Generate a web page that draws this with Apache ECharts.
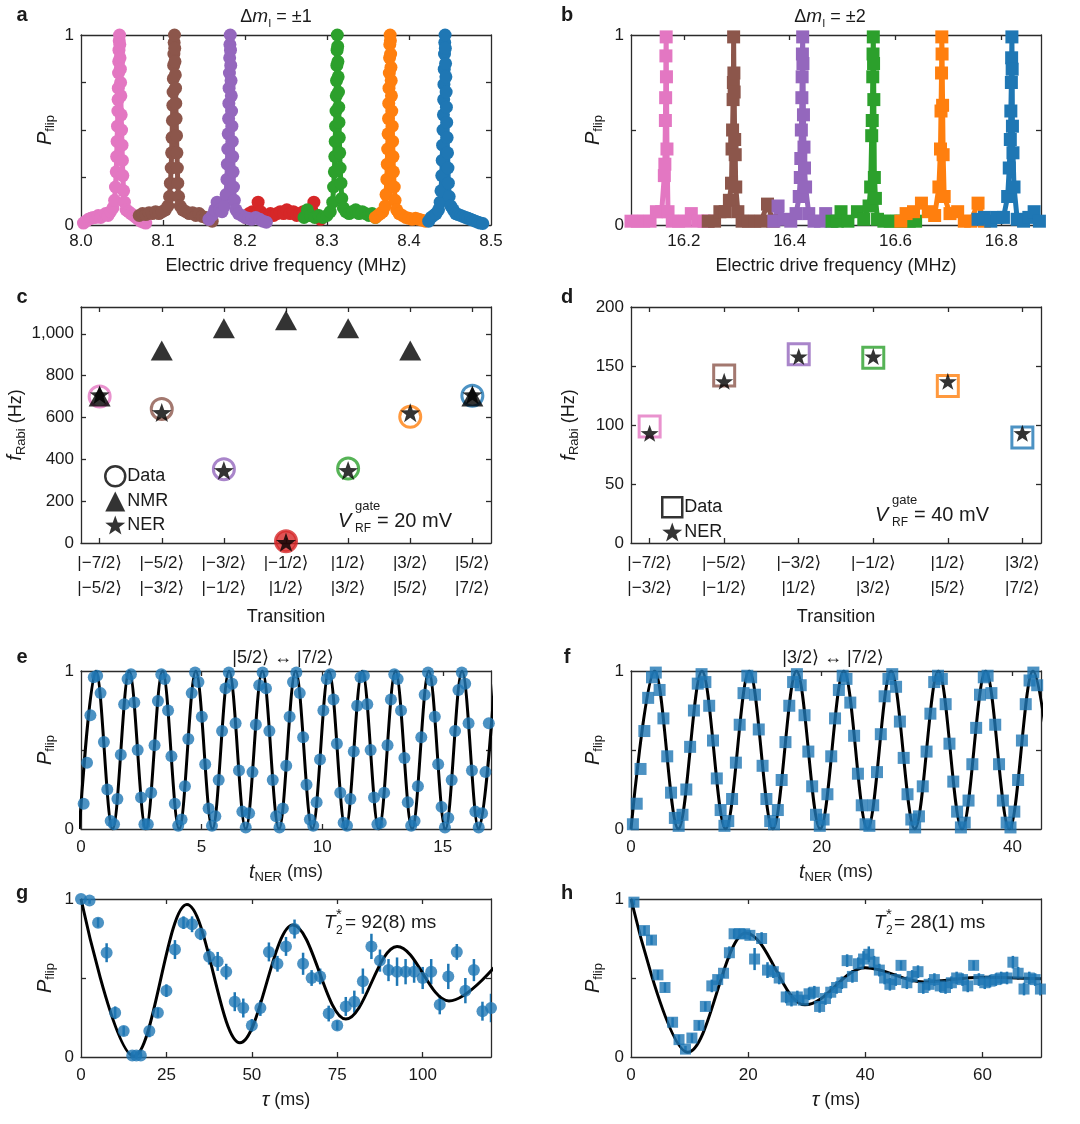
<!DOCTYPE html>
<html><head><meta charset="utf-8">
<script src="https://cdn.jsdelivr.net/npm/echarts@6/dist/echarts.min.js"></script>
<style>html,body{margin:0;padding:0;background:#fff}#main{width:1080px;height:1124px}</style>
</head><body><div id="main"></div>
<script>
// ---------------- DATA ----------------
// panel a : Δm = ±1 spectra  [frequency MHz, Pflip]
const aPink=[[8.003,0.01],[8.006,0.02],[8.009,0.03],[8.012,0.035],[8.015,0.04],[8.018,0.04],[8.021,0.05],[8.024,0.04],[8.027,0.05],[8.030,0.06],[8.033,0.05],[8.036,0.07],[8.039,0.09],[8.041,0.13],[8.042,0.2],[8.043,0.28],[8.0435,0.36],[8.044,0.44],[8.0445,0.52],[8.045,0.6],[8.0452,0.66],[8.0455,0.72],[8.0458,0.8],[8.046,0.86],[8.0463,0.92],[8.0466,0.97],[8.047,1.0],[8.0473,0.95],[8.0476,0.88],[8.048,0.82],[8.0483,0.75],[8.0486,0.68],[8.049,0.58],[8.0495,0.5],[8.05,0.42],[8.0505,0.34],[8.051,0.26],[8.052,0.18],[8.053,0.12],[8.055,0.08],[8.058,0.07],[8.061,0.06],[8.064,0.05],[8.067,0.04],[8.07,0.03],[8.073,0.02],[8.076,0.015],[8.079,0.01]];
const aBrown=[[8.071,0.05],[8.075,0.06],[8.079,0.055],[8.083,0.065],[8.087,0.06],[8.091,0.07],[8.095,0.06],[8.099,0.07],[8.103,0.08],[8.106,0.1],[8.108,0.15],[8.109,0.22],[8.110,0.3],[8.1105,0.38],[8.111,0.46],[8.1115,0.55],[8.112,0.63],[8.1123,0.7],[8.1126,0.77],[8.113,0.84],[8.1133,0.9],[8.1136,0.96],[8.114,1.0],[8.1143,0.93],[8.1146,0.86],[8.115,0.79],[8.1153,0.72],[8.1156,0.64],[8.116,0.56],[8.1165,0.47],[8.117,0.38],[8.1175,0.3],[8.118,0.22],[8.119,0.15],[8.121,0.1],[8.124,0.08],[8.128,0.07],[8.132,0.06],[8.136,0.065],[8.14,0.05],[8.144,0.06],[8.148,0.045],[8.152,0.04],[8.156,0.03],[8.16,0.02]];
const aRed=[[8.201,0.04],[8.205,0.06],[8.209,0.07],[8.213,0.06],[8.216,0.12],[8.219,0.07],[8.223,0.05],[8.227,0.04],[8.231,0.06],[8.235,0.05],[8.239,0.06],[8.243,0.07],[8.247,0.06],[8.251,0.08],[8.255,0.06],[8.259,0.07],[8.263,0.05],[8.267,0.06],[8.271,0.07],[8.275,0.06],[8.279,0.05],[8.284,0.12],[8.288,0.05],[8.292,0.03]];
const aPurple=[[8.156,0.03],[8.160,0.05],[8.163,0.08],[8.166,0.12],[8.169,0.08],[8.172,0.07],[8.175,0.1],[8.177,0.16],[8.178,0.24],[8.1785,0.32],[8.179,0.4],[8.1795,0.48],[8.18,0.56],[8.1803,0.64],[8.1806,0.72],[8.181,0.8],[8.1813,0.88],[8.1816,0.95],[8.182,1.0],[8.1823,0.92],[8.1826,0.84],[8.183,0.76],[8.1833,0.68],[8.1836,0.6],[8.184,0.52],[8.1845,0.44],[8.185,0.36],[8.1855,0.28],[8.186,0.2],[8.187,0.13],[8.189,0.08],[8.192,0.06],[8.196,0.05],[8.2,0.04],[8.204,0.035],[8.208,0.03],[8.213,0.04],[8.218,0.03],[8.222,0.02],[8.226,0.015]];
const aGreen=[[8.272,0.04],[8.276,0.08],[8.28,0.05],[8.285,0.04],[8.29,0.05],[8.295,0.04],[8.3,0.05],[8.304,0.07],[8.307,0.12],[8.308,0.2],[8.309,0.28],[8.3095,0.36],[8.31,0.44],[8.3105,0.52],[8.311,0.6],[8.3113,0.68],[8.3116,0.76],[8.312,0.84],[8.3123,0.92],[8.3126,1.0],[8.313,0.94],[8.3133,0.86],[8.3136,0.78],[8.314,0.7],[8.3143,0.62],[8.3146,0.54],[8.315,0.46],[8.3155,0.38],[8.316,0.3],[8.317,0.22],[8.318,0.14],[8.32,0.09],[8.323,0.07],[8.327,0.06],[8.331,0.07],[8.335,0.08],[8.339,0.06],[8.343,0.07],[8.347,0.06],[8.351,0.05],[8.355,0.06],[8.359,0.04]];
const aOrange=[[8.359,0.04],[8.362,0.05],[8.365,0.06],[8.368,0.07],[8.371,0.1],[8.372,0.16],[8.373,0.24],[8.3735,0.32],[8.374,0.4],[8.3745,0.48],[8.375,0.56],[8.3753,0.64],[8.3756,0.72],[8.376,0.8],[8.3763,0.88],[8.3766,0.95],[8.377,1.0],[8.3773,0.97],[8.3776,0.9],[8.378,0.83],[8.3783,0.76],[8.3786,0.68],[8.379,0.6],[8.3795,0.52],[8.38,0.44],[8.3805,0.36],[8.381,0.28],[8.382,0.2],[8.383,0.13],[8.385,0.08],[8.388,0.06],[8.392,0.05],[8.396,0.04],[8.4,0.035],[8.404,0.03],[8.408,0.035],[8.412,0.03],[8.416,0.025],[8.42,0.02]];
const aBlue=[[8.424,0.02],[8.427,0.04],[8.43,0.05],[8.433,0.06],[8.436,0.08],[8.438,0.12],[8.439,0.18],[8.44,0.26],[8.4405,0.34],[8.441,0.42],[8.4415,0.5],[8.442,0.58],[8.4423,0.66],[8.4426,0.74],[8.443,0.82],[8.4433,0.9],[8.4436,0.96],[8.444,1.0],[8.4443,0.93],[8.4446,0.85],[8.445,0.78],[8.4453,0.7],[8.4456,0.62],[8.446,0.54],[8.4465,0.46],[8.447,0.38],[8.4475,0.3],[8.448,0.22],[8.449,0.15],[8.451,0.1],[8.454,0.08],[8.457,0.06],[8.46,0.055],[8.463,0.05],[8.466,0.045],[8.469,0.04],[8.472,0.035],[8.475,0.03],[8.478,0.025],[8.481,0.02],[8.484,0.015],[8.487,0.01],[8.49,0.008]];

// panel b : Δm = ±2 spectra
const bPink=[[16.1,0.02],[16.112,0.02],[16.124,0.02],[16.136,0.02],[16.148,0.07],[16.158,0.07],[16.163,0.26],[16.164,0.32],[16.165,0.55],[16.1655,0.67],[16.166,0.89],[16.1665,0.99],[16.167,0.78],[16.168,0.4],[16.17,0.07],[16.178,0.02],[16.19,0.02],[16.202,0.02],[16.214,0.06],[16.226,0.02],[16.238,0.02],[16.245,0.02]];
const bBrown=[[16.246,0.02],[16.258,0.02],[16.268,0.07],[16.278,0.07],[16.286,0.13],[16.29,0.22],[16.291,0.4],[16.292,0.5],[16.293,0.66],[16.2935,0.75],[16.294,0.99],[16.2945,0.8],[16.295,0.7],[16.296,0.45],[16.297,0.37],[16.298,0.2],[16.302,0.07],[16.31,0.02],[16.322,0.02],[16.334,0.02],[16.346,0.02],[16.358,0.11],[16.368,0.02]];
const bPurple=[[16.37,0.02],[16.378,0.1],[16.39,0.03],[16.402,0.02],[16.412,0.06],[16.418,0.15],[16.42,0.25],[16.421,0.35],[16.422,0.5],[16.423,0.67],[16.4235,0.78],[16.424,0.9],[16.4245,0.99],[16.425,0.85],[16.426,0.58],[16.427,0.41],[16.428,0.3],[16.43,0.2],[16.436,0.06],[16.446,0.02],[16.458,0.02],[16.468,0.06],[16.478,0.02]];
const bGreen=[[16.48,0.02],[16.49,0.02],[16.497,0.07],[16.51,0.02],[16.528,0.07],[16.54,0.03],[16.55,0.1],[16.553,0.2],[16.555,0.47],[16.556,0.55],[16.557,0.78],[16.5575,0.9],[16.558,0.99],[16.5585,0.85],[16.559,0.66],[16.56,0.25],[16.562,0.14],[16.566,0.03],[16.578,0.02],[16.59,0.02],[16.602,0.02],[16.614,0.02],[16.626,0.02],[16.638,0.02]];
const bOrange=[[16.61,0.02],[16.62,0.06],[16.634,0.07],[16.649,0.115],[16.662,0.07],[16.674,0.05],[16.682,0.2],[16.685,0.4],[16.686,0.6],[16.687,0.8],[16.6875,0.99],[16.688,0.9],[16.689,0.63],[16.69,0.37],[16.692,0.15],[16.703,0.06],[16.7175,0.07],[16.73,0.02],[16.742,0.02],[16.756,0.115],[16.768,0.02]];
const bBlue=[[16.756,0.03],[16.768,0.04],[16.78,0.02],[16.792,0.04],[16.804,0.04],[16.812,0.15],[16.815,0.3],[16.817,0.45],[16.818,0.6],[16.819,0.75],[16.8195,0.88],[16.82,0.99],[16.8205,0.82],[16.821,0.52],[16.822,0.38],[16.824,0.2],[16.83,0.03],[16.842,0.02],[16.852,0.04],[16.862,0.07],[16.872,0.02]];

// panel c : Rabi frequencies (Hz), Δm = ±1
const cTop=['|−7/2⟩','|−5/2⟩','|−3/2⟩','|−1/2⟩','|1/2⟩','|3/2⟩','|5/2⟩'];
const cBot=['|−5/2⟩','|−3/2⟩','|−1/2⟩','|1/2⟩','|3/2⟩','|5/2⟩','|7/2⟩'];
const cData=[700,641,353,8,356,603,704];
const cNMR=[700,920,1027,1065,1027,920,700];
const cNER=[709,624,347,3,347,623,709];
// panel d : Rabi frequencies (Hz), Δm = ±2
const dTop=['|−7/2⟩','|−5/2⟩','|−3/2⟩','|−1/2⟩','|1/2⟩','|3/2⟩'];
const dBot=['|−3/2⟩','|−1/2⟩','|1/2⟩','|3/2⟩','|5/2⟩','|7/2⟩'];
const dData=[98.8,142,160,157,133,89.5];
const dNER=[93,137,158,158,137,93];

// panel e : Rabi oscillation |5/2>-|7/2>
const eT=[0.11,0.25,0.39,0.53,0.67,0.81,0.95,1.09,1.23,1.37,1.51,1.65,1.79,1.93,2.07,2.21,2.35,2.49,2.63,2.77,2.91,3.05,3.19,3.33,3.47,3.61,3.75,3.89,4.03,4.17,4.31,4.45,4.59,4.73,4.87,5.01,5.15,5.29,5.43,5.57,5.71,5.85,5.99,6.13,6.27,6.41,6.55,6.69,6.83,6.97,7.11,7.25,7.39,7.53,7.67,7.81,7.95,8.09,8.23,8.37,8.51,8.65,8.79,8.93,9.07,9.21,9.35,9.49,9.63,9.77,9.91,10.05,10.19,10.33,10.47,10.61,10.75,10.89,11.03,11.17,11.31,11.45,11.59,11.73,11.87,12.01,12.15,12.29,12.43,12.57,12.71,12.85,12.99,13.13,13.27,13.41,13.55,13.69,13.83,13.97,14.11,14.25,14.39,14.53,14.67,14.81,14.95,15.09,15.23,15.37,15.51,15.65,15.79,15.93,16.07,16.21,16.35,16.49,16.63,16.77,16.91];
const eP=[0.16,0.42,0.72,0.96,0.97,0.86,0.55,0.25,0.05,0.03,0.19,0.47,0.79,0.95,0.98,0.80,0.50,0.20,0.03,0.03,0.23,0.53,0.81,0.98,0.95,0.75,0.46,0.16,0.02,0.06,0.27,0.57,0.86,0.99,0.93,0.71,0.41,0.13,0.02,0.08,0.31,0.62,0.89,0.99,0.92,0.67,0.37,0.11,0.01,0.10,0.36,0.66,0.91,0.99,0.89,0.62,0.31,0.08,0.01,0.13,0.40,0.71,0.93,0.99,0.86,0.58,0.28,0.06,0.02,0.17,0.44,0.75,0.95,0.98,0.82,0.54,0.23,0.04,0.02,0.19,0.49,0.78,0.96,0.97,0.79,0.50,0.20,0.03,0.04,0.23,0.53,0.82,0.98,0.95,0.75,0.45,0.17,0.02,0.05,0.27,0.58,0.85,0.99,0.94,0.71,0.41,0.14,0.01,0.07,0.31,0.62,0.88,0.99,0.92,0.67,0.37,0.11,0.01,0.10,0.36,0.67];
const eFitT=[-0.07,0.62,1.31,2.0,2.69,3.38,4.07,4.76,5.45,6.14,6.83,7.52,8.21,8.9,9.59,10.28,10.97,11.66,12.35,13.04,13.73,14.42,15.11,15.8,16.49,17.18];
const eFitP=[0,1,0,1,0,1,0,1,0,1,0,1,0,1,0,1,0,1,0,1,0,1,0,1,0,1];

// panel f : Rabi oscillation |3/2>-|7/2>
const fT=[0.2,0.6,1.0,1.4,1.8,2.2,2.6,3.0,3.4,3.8,4.2,4.6,5.0,5.4,5.8,6.2,6.6,7.0,7.4,7.8,8.2,8.6,9.0,9.4,9.8,10.2,10.6,11.0,11.4,11.8,12.2,12.6,13.0,13.4,13.8,14.2,14.6,15.0,15.4,15.8,16.2,16.6,17.0,17.4,17.8,18.2,18.6,19.0,19.4,19.8,20.2,20.6,21.0,21.4,21.8,22.2,22.6,23.0,23.4,23.8,24.2,24.6,25.0,25.4,25.8,26.2,26.6,27.0,27.4,27.8,28.2,28.6,29.0,29.4,29.8,30.2,30.6,31.0,31.4,31.8,32.2,32.6,33.0,33.4,33.8,34.2,34.6,35.0,35.4,35.8,36.2,36.6,37.0,37.4,37.8,38.2,38.6,39.0,39.4,39.8,40.2,40.6,41.0,41.4,41.8,42.2,42.6];
const fP=[0.03,0.16,0.38,0.62,0.83,0.96,0.99,0.88,0.70,0.46,0.23,0.07,0.02,0.09,0.25,0.52,0.75,0.92,0.98,0.93,0.78,0.56,0.32,0.12,0.02,0.05,0.19,0.42,0.66,0.86,0.97,0.96,0.85,0.63,0.40,0.19,0.05,0.03,0.12,0.31,0.55,0.78,0.93,0.98,0.91,0.72,0.49,0.27,0.09,0.02,0.06,0.22,0.46,0.70,0.88,0.97,0.95,0.80,0.59,0.35,0.15,0.03,0.02,0.15,0.36,0.60,0.84,0.95,0.98,0.90,0.68,0.45,0.22,0.06,0.01,0.08,0.27,0.49,0.73,0.93,0.97,0.95,0.79,0.54,0.30,0.11,0.01,0.04,0.18,0.41,0.64,0.85,0.96,0.97,0.86,0.66,0.41,0.18,0.04,0.01,0.11,0.31,0.56,0.79,0.94,0.99,0.91];
const fFitT=[0,2.48,4.96,7.44,9.92,12.4,14.88,17.36,19.84,22.32,24.8,27.28,29.76,32.24,34.72,37.2,39.68,42.16,44.64];
const fFitP=[0,1,0,1,0,1,0,1,0,1,0,1,0,1,0,1,0,1,0];

// panel g : Ramsey, Δm = ±1
const gT=[0,2.5,5,7.5,10,12.5,15,16.2,17.5,20,22.5,25,27.5,30,32.5,35,37.5,40,42.5,45,47.5,50,52.5,55,57.5,60,62.5,65,67.5,70,72.5,75,77.5,80,82.5,85,87.5,90,92.5,95,97.5,100,102.5,105,107.5,110,112.5,115,117.5,120];
const gP=[1.0,0.99,0.85,0.66,0.28,0.165,0.01,0.01,0.01,0.165,0.28,0.42,0.68,0.85,0.84,0.78,0.635,0.605,0.54,0.35,0.31,0.2,0.31,0.665,0.59,0.70,0.81,0.59,0.50,0.51,0.275,0.20,0.32,0.35,0.48,0.70,0.61,0.55,0.54,0.54,0.54,0.50,0.54,0.33,0.51,0.665,0.42,0.55,0.29,0.31];
const gErr=[0.02,0.02,0.03,0.06,0.04,0.03,0.02,0.02,0.02,0.04,0.03,0.04,0.06,0.04,0.05,0.04,0.05,0.06,0.05,0.06,0.06,0.04,0.05,0.06,0.05,0.06,0.06,0.07,0.05,0.05,0.05,0.03,0.06,0.07,0.08,0.08,0.07,0.07,0.09,0.08,0.07,0.07,0.08,0.06,0.08,0.05,0.08,0.07,0.06,0.09];
const gFitT=[0,15.5,31,46.5,62,77.5,92.5,107.7,123];
const gFitP=[1,0.005,0.965,0.09,0.835,0.24,0.7,0.355,0.62];

// panel h : Ramsey, Δm = ±2
const hT=[0.5,2.3,3.5,4.6,5.8,7.1,8.2,9.3,10.4,11.6,12.7,13.8,14.8,15.8,16.8,17.6,18.5,19.4,20.3,21.1,22.3,23.3,24.3,25.3,26.5,27.4,28.4,29.4,30.4,31.3,32.2,33.2,34.1,35.1,36.0,36.9,37.8,38.8,39.7,40.6,41.5,42.4,43.3,44.2,45.2,46.1,47.1,48.0,49.0,49.9,50.9,51.8,52.8,53.7,54.7,55.6,56.6,57.5,58.5,59.4,60.4,61.3,62.3,63.2,64.2,65.2,66.1,67.1,68.0,69.0,69.9];
const hP=[0.98,0.80,0.74,0.52,0.44,0.22,0.11,0.05,0.12,0.20,0.32,0.45,0.49,0.53,0.66,0.78,0.78,0.78,0.77,0.62,0.75,0.55,0.54,0.50,0.38,0.36,0.38,0.36,0.40,0.41,0.32,0.37,0.41,0.44,0.47,0.61,0.51,0.59,0.62,0.65,0.60,0.55,0.50,0.46,0.49,0.58,0.47,0.51,0.54,0.44,0.46,0.49,0.45,0.44,0.47,0.50,0.49,0.45,0.58,0.49,0.47,0.48,0.49,0.50,0.50,0.60,0.53,0.43,0.50,0.49,0.43];
const hErr=[0.02,0.03,0.03,0.03,0.03,0.03,0.03,0.02,0.03,0.03,0.03,0.04,0.03,0.03,0.04,0.03,0.03,0.03,0.03,0.07,0.04,0.05,0.04,0.04,0.04,0.04,0.04,0.03,0.04,0.04,0.04,0.04,0.04,0.04,0.04,0.04,0.04,0.04,0.05,0.05,0.04,0.04,0.04,0.04,0.04,0.03,0.04,0.04,0.04,0.04,0.04,0.04,0.04,0.04,0.04,0.04,0.04,0.04,0.03,0.04,0.04,0.04,0.04,0.04,0.04,0.04,0.04,0.04,0.04,0.04,0.04];
const hFitT=[0,9.7,19.6,29.7,40,50,60,70];
const hFitP=[1,0.03,0.785,0.33,0.565,0.475,0.505,0.495];

// ---------------- STYLE ----------------
const FONT='"Liberation Sans", Arial, Helvetica, "DejaVu Sans", sans-serif';
const AX='#2b2b2b', TXT='#1a1a1a';
const PINK='#e377c2',BROWN='#8c564b',PURPLE='#9467bd',RED='#d62728',GREEN='#2ca02c',ORANGE='#ff7f0e',BLUE='#1f77b4';
const STAR='path://M0,-50L11.8,-16.2L47.6,-15.5L19,6.2L29.4,40.5L0,20L-29.4,40.5L-19,6.2L-47.6,-15.5L-11.8,-16.2Z';
const zip=(a,b)=>a.map((v,i)=>[v,b[i]]);
const zip3=(a,b,c)=>a.map((v,i)=>[v,b[i],c[i]]);

const RICH={
  i:{fontStyle:'italic',fontSize:20,fontFamily:FONT,color:TXT,lineHeight:24},
  s:{fontSize:13,fontFamily:FONT,color:TXT,verticalAlign:'bottom',lineHeight:13},
  n:{fontSize:18,fontFamily:FONT,color:TXT,lineHeight:24}
};

const grid=[],xAxis=[],yAxis=[],series=[];
function panel(p){
  const gi=grid.length;
  grid.push({left:p.box[0],top:p.box[1],width:p.box[2],height:p.box[3]});
  const line={show:true,onZero:false,lineStyle:{color:AX,width:1.3}};
  const tick=v=>({show:true,inside:true,length:5,customValues:v,lineStyle:{color:AX,width:1.3}});
  const lab=(v,fmt,extra,m)=>Object.assign({show:true,customValues:v,formatter:fmt,color:TXT,fontSize:17,fontFamily:FONT,margin:m},extra||{});
  xAxis.push({gridIndex:gi,type:'value',position:'bottom',min:p.x.min,max:p.x.max,axisLine:line,axisTick:tick(p.x.ticks),
    axisLabel:lab(p.x.labels,p.x.fmt,p.x.extra,p.x.margin||9),splitLine:{show:false},
    name:p.x.name,nameLocation:'middle',nameGap:p.x.gap,nameTextStyle:{color:TXT,fontSize:18,fontFamily:FONT,rich:RICH}});
  xAxis.push({gridIndex:gi,type:'value',position:'top',min:p.x.min,max:p.x.max,axisLine:line,axisTick:tick(p.x.ticks),axisLabel:{show:false},splitLine:{show:false}});
  yAxis.push({gridIndex:gi,type:'value',position:'left',min:p.y.min,max:p.y.max,axisLine:line,axisTick:tick(p.y.ticks),
    axisLabel:lab(p.y.labels,p.y.fmt,p.y.extra,7),splitLine:{show:false},
    name:p.y.name,nameLocation:'middle',nameGap:p.y.gap,nameRotate:90,nameTextStyle:{color:TXT,fontSize:18,fontFamily:FONT,rich:RICH}});
  yAxis.push({gridIndex:gi,type:'value',position:'right',min:p.y.min,max:p.y.max,axisLine:line,axisTick:tick(p.y.ticks),axisLabel:{show:false},splitLine:{show:false}});
  return {x:2*gi,y:2*gi};
}
const PNAME='{i|P}{s|flip}';
const fmt1=v=>v.toFixed(1), fmt0=v=>String(Math.round(v));
const yP=(ticks,gap)=>({min:0,max:1,ticks:ticks,labels:[0,1],fmt:fmt0,name:PNAME,gap:gap});

const A=panel({box:[81,35,410,190],x:{min:8.0,max:8.5,ticks:[8.1,8.2,8.3,8.4],labels:[8.0,8.1,8.2,8.3,8.4,8.5],fmt:fmt1,name:'Electric drive frequency (MHz)',gap:32,margin:8},y:yP([0.25,0.5,0.75],24)});
const B=panel({box:[631,35,410,190],x:{min:16.1,max:16.875,ticks:[16.2,16.4,16.6,16.8],labels:[16.2,16.4,16.6,16.8],fmt:fmt1,name:'Electric drive frequency (MHz)',gap:32,margin:8},y:yP([0.5],26)});
const C=panel({box:[81,307,410,236],x:{min:-0.3,max:6.3,ticks:[0,1,2,3,4,5,6],labels:[0,1,2,3,4,5,6],fmt:v=>{const k=Math.round(v);return cTop[k]+'\n'+cBot[k];},extra:{lineHeight:25,fontSize:17},margin:8,name:'Transition',gap:65},
  y:{min:0,max:1128,ticks:[200,400,600,800,1000],labels:[0,200,400,600,800,1000],fmt:v=>v===1000?'1,000':String(v),name:'{i|f}{s|Rabi}{n| (Hz)}',gap:48}});
const D=panel({box:[631,307,410,236],x:{min:-0.25,max:5.25,ticks:[0,1,2,3,4,5],labels:[0,1,2,3,4,5],fmt:v=>{const k=Math.round(v);return dTop[k]+'\n'+dBot[k];},extra:{lineHeight:25,fontSize:17},margin:8,name:'Transition',gap:65},
  y:{min:0,max:200,ticks:[50,100,150],labels:[0,50,100,150,200],fmt:fmt0,name:'{i|f}{s|Rabi}{n| (Hz)}',gap:50}});
const E=panel({box:[81,671,410,158],x:{min:0,max:17,ticks:[5,10,15],labels:[0,5,10,15],fmt:fmt0,name:'{i|t}{s|NER}{n| (ms)}',gap:31,margin:10},y:yP([0.5],24)});
const F=panel({box:[631,671,410,158],x:{min:0,max:43,ticks:[20,40],labels:[0,20,40],fmt:fmt0,name:'{i|t}{s|NER}{n| (ms)}',gap:31,margin:10},y:yP([0.5],26)});
const G=panel({box:[81,899,410,158],x:{min:0,max:120,ticks:[25,50,75,100],labels:[0,25,50,75,100],fmt:fmt0,name:'{i|τ}{n| (ms)}',gap:31,margin:10},y:yP([0.5],24)});
const H=panel({box:[631,899,410,158],x:{min:0,max:70,ticks:[20,40,60],labels:[0,20,40,60],fmt:fmt0,name:'{i|τ}{n| (ms)}',gap:31,margin:10},y:yP([0.5],26)});

function spec(ax,data,color,sym,size,lw){
  series.push({type:'line',xAxisIndex:ax.x,yAxisIndex:ax.y,data:data,symbol:sym,symbolSize:size,showSymbol:true,showAllSymbol:true,
    lineStyle:{color:color,width:lw},itemStyle:{color:color},clip:true,z:3,emphasis:{disabled:true}});
}
[[aPink,PINK],[aBrown,BROWN],[aRed,RED],[aPurple,PURPLE],[aGreen,GREEN],[aOrange,ORANGE],[aBlue,BLUE]].forEach(s=>spec(A,s[0],s[1],'circle',13,5));
[[bPink,PINK],[bBrown,BROWN],[bPurple,PURPLE],[bGreen,GREEN],[bOrange,ORANGE],[bBlue,BLUE]].forEach(s=>spec(B,s[0],s[1],'rect',13,5));

// panel c
const cCol=[PINK,BROWN,PURPLE,RED,GREEN,ORANGE,BLUE];
series.push({type:'scatter',name:'cData',xAxisIndex:C.x,yAxisIndex:C.y,symbol:'circle',symbolSize:21,z:3,
  data:cData.map((v,i)=>({value:[i,v],itemStyle:{color:i===3?RED:'rgba(0,0,0,0)',borderColor:cCol[i],borderWidth:3}}))});
series.push({type:'scatter',name:'NMR',xAxisIndex:C.x,yAxisIndex:C.y,symbol:'triangle',symbolSize:[22,20],itemStyle:{color:'#000'},z:4,data:cNMR.map((v,i)=>[i,v])});
series.push({type:'scatter',name:'NER',xAxisIndex:C.x,yAxisIndex:C.y,symbol:STAR,symbolSize:[20,19],itemStyle:{color:'#000'},z:5,data:cNER.map((v,i)=>[i,v])});
series.push({type:'scatter',name:'Data',xAxisIndex:C.x,yAxisIndex:C.y,symbol:'circle',itemStyle:{color:'rgba(0,0,0,0)',borderColor:'#000',borderWidth:3},data:[]});
// panel d
const dCol=[PINK,BROWN,PURPLE,GREEN,ORANGE,BLUE];
series.push({type:'scatter',name:'dData',xAxisIndex:D.x,yAxisIndex:D.y,symbol:'rect',symbolSize:21,z:3,
  data:dData.map((v,i)=>({value:[i,v],itemStyle:{color:'rgba(0,0,0,0)',borderColor:dCol[i],borderWidth:3}}))});
series.push({type:'scatter',name:'NER ',xAxisIndex:D.x,yAxisIndex:D.y,symbol:STAR,symbolSize:[18,17],itemStyle:{color:'#000'},z:5,data:dNER.map((v,i)=>[i,v])});
series.push({type:'scatter',name:'Data ',xAxisIndex:D.x,yAxisIndex:D.y,symbol:'rect',itemStyle:{color:'rgba(0,0,0,0)',borderColor:'#000',borderWidth:3},data:[]});

// oscillations / Ramsey
function fit(ax,t,p){series.push({type:'line',xAxisIndex:ax.x,yAxisIndex:ax.y,data:zip(t,p),smooth:0.364,smoothMonotone:'x',symbol:'none',showSymbol:false,lineStyle:{color:'#000',width:3},clip:true,z:3});}
function pts(ax,t,p,sym,size){series.push({type:'scatter',xAxisIndex:ax.x,yAxisIndex:ax.y,data:zip(t,p),symbol:sym,symbolSize:size,itemStyle:{color:BLUE},z:4,clip:false});}
function err(ax,t,p,e){series.push({type:'custom',xAxisIndex:ax.x,yAxisIndex:ax.y,data:zip3(t,p,e),z:2,clip:true,
  renderItem:(params,api)=>{const x=api.value(0),y=api.value(1),d=api.value(2);const p1=api.coord([x,y-d]),p2=api.coord([x,y+d]);
    return {type:'line',shape:{x1:p1[0],y1:p1[1],x2:p2[0],y2:p2[1]},style:{stroke:BLUE,lineWidth:2.5}};}});}
fit(E,eFitT,eFitP); pts(E,eT,eP,'circle',12);
fit(F,fFitT,fFitP); pts(F,fT,fP,'rect',12);
err(G,gT,gP,gErr); fit(G,gFitT,gFitP); pts(G,gT,gP,'circle',12);
err(H,hT,hP,hErr); fit(H,hFitT,hFitP); pts(H,hT,hP,'rect',11);

// ---------------- TEXT ----------------
const GR={
  i:{fontStyle:'italic',fontSize:19,fontFamily:FONT,fill:TXT,lineHeight:24},
  s:{fontSize:11,fontFamily:FONT,fill:TXT,verticalAlign:'bottom',lineHeight:12},
  n:{fontSize:18,fontFamily:FONT,fill:TXT,lineHeight:24}
};
function txt(x,y,text,o){o=o||{};return {type:'text',x:x,y:y,silent:true,style:Object.assign({text:text,fill:TXT,fontFamily:FONT,fontSize:o.size||15,fontStyle:o.italic?'italic':'normal',fontWeight:o.bold?'bold':'normal',
  align:o.align||'left',verticalAlign:'middle',textAlign:o.align||'left',textVerticalAlign:'middle'},o.rich?{rich:o.rich}:{})};}
const graphic=[
  txt(22,15,'a',{bold:true,size:20,align:'center'}), txt(567,15,'b',{bold:true,size:20,align:'center'}),
  txt(22,297,'c',{bold:true,size:20,align:'center'}), txt(567,297,'d',{bold:true,size:20,align:'center'}),
  txt(22,657,'e',{bold:true,size:20,align:'center'}), txt(567,657,'f',{bold:true,size:20,align:'center'}),
  txt(22,893,'g',{bold:true,size:20,align:'center'}), txt(567,893,'h',{bold:true,size:20,align:'center'}),
  txt(276,17,'{n|Δ}{i|m}{s|I}{n| = ±1}',{align:'center',rich:GR}),
  txt(830,17,'{n|Δ}{i|m}{s|I}{n| = ±2}',{align:'center',rich:GR}),
  txt(283,658,'|5/2⟩ ↔ |7/2⟩',{align:'center',size:18}),
  txt(833,658,'|3/2⟩ ↔ |7/2⟩',{align:'center',size:18}),
  // V_RF^gate annotations
  txt(338,521,'V',{italic:true,size:20}), txt(355,506,'gate',{size:13}), txt(355,529,'RF',{size:12}), txt(377,521,'= 20 mV',{size:20}),
  txt(875,515,'V',{italic:true,size:20}), txt(892,500,'gate',{size:13}), txt(892,523,'RF',{size:12}), txt(914,515,'= 40 mV',{size:20}),
  // T2* annotations
  txt(324,923,'T',{italic:true,size:19}), txt(336,915,'*',{size:15}), txt(336,931,'2',{size:12}), txt(345,923,'= 92(8) ms',{size:19}),
  txt(874,923,'T',{italic:true,size:19}), txt(886,915,'*',{size:15}), txt(886,931,'2',{size:12}), txt(894,923,'= 28(1) ms',{size:19})
];

const legend=[
  {left:99,top:460,orient:'vertical',itemWidth:20,itemHeight:20,itemGap:4,selectedMode:false,
   data:[{name:'Data',icon:'circle',itemStyle:{color:'rgba(0,0,0,0)',borderColor:'#000',borderWidth:2.5}},{name:'NMR',icon:'triangle'},{name:'NER',icon:STAR}],
   textStyle:{fontSize:18,color:TXT,fontFamily:FONT,padding:[0,0,0,-3]}},
  {left:656,top:491,orient:'vertical',itemWidth:20,itemHeight:20,itemGap:4,selectedMode:false,
   data:[{name:'Data ',icon:'rect',itemStyle:{color:'rgba(0,0,0,0)',borderColor:'#000',borderWidth:2.5}},{name:'NER ',icon:STAR}],
   formatter:n=>n.trim(),textStyle:{fontSize:18,color:TXT,fontFamily:FONT,padding:[0,0,0,-3]}}
];

const chart=echarts.init(document.getElementById('main'),null,{renderer:'canvas'});
chart.setOption({animation:false,backgroundColor:'#fff',grid:grid,xAxis:xAxis,yAxis:yAxis,series:series,graphic:graphic,legend:legend,tooltip:{show:false}});
</script></body></html>
